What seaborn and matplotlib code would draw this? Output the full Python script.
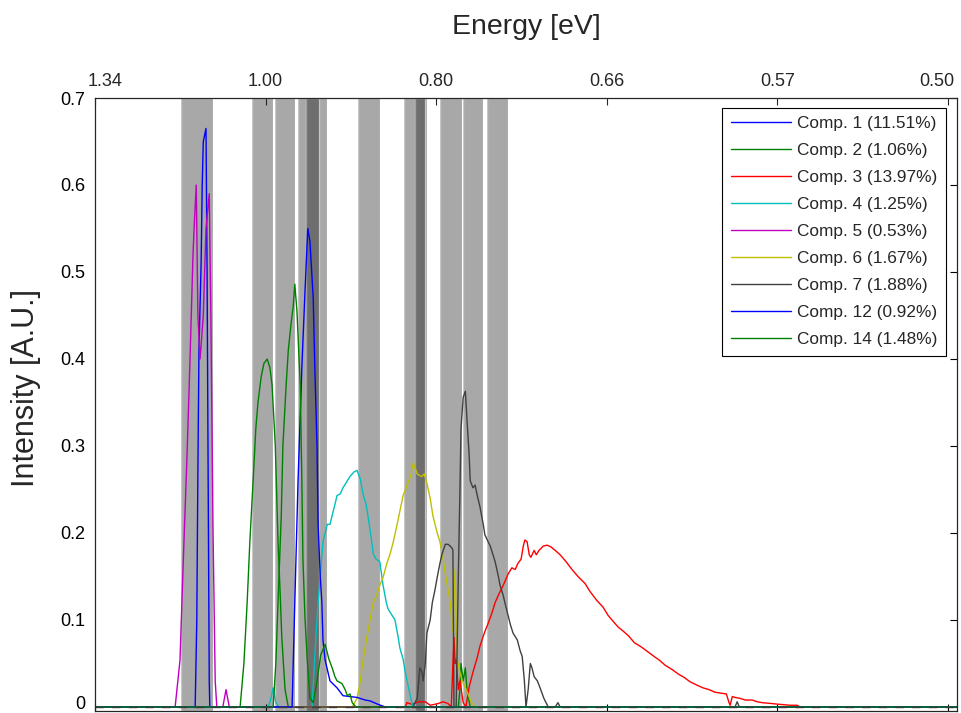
import numpy as np
import pandas as pd
import matplotlib
matplotlib.use("Agg")
import matplotlib.pyplot as plt
import matplotlib.transforms as mtransforms
import seaborn as sns
from matplotlib.lines import Line2D

# ---------------- data (wavelength in nm, intensity in A.U.) ----------------
labels = ["Comp. 1 (11.51%)", "Comp. 2 (1.06%)", "Comp. 3 (13.97%)", "Comp. 4 (1.25%)",
          "Comp. 5 (0.53%)", "Comp. 6 (1.67%)", "Comp. 7 (1.88%)", "Comp. 12 (0.92%)",
          "Comp. 14 (1.48%)"]
colors = ["#0000FF", "#008000", "#FF0000", "#00BFBF", "#BF00BF", "#BFBF00", "#404040",
          "#0000FF", "#008000"]

comp1_nm = [1110, 1113, 1115, 1117, 1121, 1123, 1125, 1130, 1132, 1134, 1136, 1137]
comp1_int = [0, 0.10, 0.27, 0.41, 0.51, 0.60, 0.65, 0.665, 0.50, 0.26, 0.03, 0]

comp2_nm = [1193, 1200, 1206, 1211, 1217, 1222, 1226, 1232, 1237, 1243, 1248, 1252, 1258,
            1263, 1267, 1270, 1276, 1282,
            1596, 1599, 1601, 1605, 1609, 1612, 1618]
comp2_int = [0, 0.05, 0.12, 0.19, 0.26, 0.32, 0.35, 0.38, 0.395, 0.40, 0.39, 0.37, 0.30,
             0.19, 0.13, 0.08, 0.02, 0,
             0, 0.02, 0.05, 0.03, 0.045, 0.02, 0]

comp3_nm = [1498, 1501, 1511, 1522, 1535, 1544, 1559, 1568, 1577, 1583, 1586, 1588, 1590,
            1592, 1596, 1599, 1605, 1610, 1616, 1623, 1631, 1636, 1644, 1651, 1658, 1664,
            1671, 1679, 1688, 1695, 1701, 1706, 1712, 1716, 1719, 1723, 1727, 1730, 1736,
            1740, 1745, 1753, 1760, 1767, 1775, 1784, 1795, 1806, 1817, 1830, 1839, 1851,
            1863, 1873, 1884, 1891, 1899, 1910, 1921, 1934, 1947, 1960, 1967, 1978, 1991,
            2002, 2013, 2024, 2037, 2048, 2059, 2070, 2080, 2091, 2096, 2098, 2102, 2107,
            2116, 2126, 2139, 2148, 2157, 2174, 2190, 2209, 2222, 2227]
comp3_int = [0, 0.005, 0.003, 0.006, 0.006, 0.002, 0.004, 0.006, 0.004, 0.0, 0.05, 0.08,
             0.05, 0.055, 0.02, 0.03, 0.005, 0.0, 0.023, 0.04, 0.057, 0.07, 0.085, 0.096,
             0.108, 0.12, 0.13, 0.14, 0.153, 0.16, 0.158, 0.165, 0.17, 0.185, 0.192, 0.19,
             0.175, 0.172, 0.18, 0.175, 0.18, 0.185, 0.186, 0.184, 0.18, 0.175, 0.167,
             0.158, 0.15, 0.142, 0.133, 0.123, 0.115, 0.105, 0.097, 0.092, 0.088, 0.082,
             0.074, 0.069, 0.063, 0.057, 0.054, 0.048, 0.043, 0.038, 0.034, 0.029, 0.025,
             0.022, 0.02, 0.017, 0.016, 0.015, 0.005, 0.002, 0.012, 0.011, 0.01, 0.008,
             0.008, 0.006, 0.005, 0.004, 0.003, 0.002, 0.002, 0]

comp4_nm = [1245, 1250, 1254, 1259, 1265, 1326, 1331, 1337, 1346, 1354, 1359, 1367, 1372,
            1378, 1383, 1391, 1396, 1403, 1409, 1415, 1420, 1426, 1429, 1435, 1439, 1444,
            1451, 1457, 1463, 1466, 1474, 1479, 1485, 1488, 1494, 1498, 1503, 1507, 1512]
comp4_int = [0, 0.01, 0.022, 0.005, 0, 0, 0.06, 0.12, 0.19, 0.21, 0.21, 0.23, 0.243, 0.245,
             0.252, 0.26, 0.265, 0.27, 0.272, 0.262, 0.245, 0.232, 0.22, 0.195, 0.176,
             0.17, 0.167, 0.14, 0.12, 0.113, 0.105, 0.10, 0.08, 0.068, 0.055, 0.04, 0.025,
             0.014, 0]

comp5_nm = [1073, 1082, 1088, 1095, 1100, 1106, 1108, 1112, 1115, 1119, 1125, 1130, 1136,
            1139, 1143, 1147, 1150, 1161, 1167, 1173]
comp5_int = [0, 0.054, 0.167, 0.29, 0.39, 0.52, 0.55, 0.60, 0.45, 0.40, 0.45, 0.55, 0.59,
             0.45, 0.20, 0.03, 0, 0, 0.02, 0]

comp6_nm = [1400, 1409, 1415, 1420, 1427, 1433, 1439, 1446, 1451, 1457, 1464, 1470, 1476,
            1483, 1488, 1494, 1503, 1509, 1512, 1516, 1520, 1525, 1529, 1533, 1538, 1544,
            1549, 1557, 1562, 1568, 1572, 1577, 1581, 1586, 1588, 1590, 1592, 1594, 1599,
            1603, 1612, 1620, 1627]
comp6_int = [0, 0.01, 0.03, 0.054, 0.08, 0.10, 0.12, 0.13, 0.14, 0.149, 0.165, 0.176,
             0.19, 0.21, 0.225, 0.243, 0.257, 0.268, 0.28, 0.275, 0.268, 0.266, 0.265,
             0.268, 0.257, 0.24, 0.22, 0.20, 0.19, 0.17, 0.153, 0.135, 0.12, 0.086, 0.12,
             0.158, 0.10, 0.054, 0.04, 0.03, 0.018, 0.005, 0]

comp7_nm = [1512, 1520, 1525, 1529, 1531, 1535, 1538, 1544, 1548, 1553, 1557, 1562, 1566,
            1572, 1577, 1581, 1585, 1586, 1588, 1592, 1596, 1599, 1601, 1605, 1609, 1612,
            1616, 1618, 1623, 1627, 1631, 1636, 1642, 1645, 1651, 1655, 1660, 1664, 1670,
            1673, 1679, 1682, 1688, 1692, 1697, 1705, 1710, 1714, 1718, 1721, 1725, 1729,
            1732, 1736, 1742, 1747, 1754, 1762, 1775, 1780, 1784, 2107, 2111, 2115]
comp7_int = [0, 0.01, 0.045, 0.04, 0.03, 0.05, 0.085, 0.10, 0.12, 0.135, 0.149, 0.165,
             0.176, 0.187, 0.187, 0.185, 0.182, 0.18, 0.0, 0.0, 0.15, 0.25, 0.32, 0.356,
             0.363, 0.33, 0.29, 0.26, 0.252, 0.255, 0.243, 0.23, 0.21, 0.198, 0.19, 0.185,
             0.175, 0.167, 0.15, 0.14, 0.128, 0.12, 0.105, 0.095, 0.085, 0.077, 0.065,
             0.058, 0.03, 0.0, 0.02, 0.05, 0.045, 0.035, 0.03, 0.022, 0.01, 0, 0, 0.005,
             0, 0, 0.006, 0]

comp12_nm = [1289, 1294, 1300, 1307, 1313, 1318, 1322, 1328, 1331, 1335, 1337, 1341, 1344,
             1346, 1350, 1359, 1372, 1383, 1396, 1409, 1424, 1433, 1448, 1461]
comp12_int = [0, 0.12, 0.26, 0.39, 0.48, 0.55, 0.535, 0.47, 0.39, 0.30, 0.21, 0.15, 0.12,
              0.077, 0.054, 0.03, 0.022, 0.013, 0.012, 0.011, 0.008, 0.007, 0.003, 0]

comp14_nm = [1254, 1259, 1263, 1269, 1272, 1278, 1282, 1287, 1291, 1294, 1298, 1304, 1307,
             1309, 1313, 1317, 1322, 1328, 1335, 1342, 1350, 1357, 1363, 1368, 1372, 1381,
             1387, 1391, 1396, 1400, 1407]
comp14_int = [0, 0.05, 0.12, 0.22, 0.30, 0.37, 0.41, 0.44, 0.46, 0.486, 0.455, 0.37, 0.26,
              0.17, 0.10, 0.054, 0.01, 0.005, 0.03, 0.06, 0.072, 0.055, 0.045, 0.035, 0.03,
              0.027, 0.02, 0.013, 0.015, 0.005, 0]

series_nm = [comp1_nm, comp2_nm, comp3_nm, comp4_nm, comp5_nm, comp6_nm, comp7_nm,
             comp12_nm, comp14_nm]
series_int = [comp1_int, comp2_int, comp3_int, comp4_int, comp5_int, comp6_int, comp7_int,
              comp12_int, comp14_int]

# shaded spectral bands (nm)
band_start = [1084, 1215, 1257, 1300, 1315, 1411, 1496, 1516, 1562, 1605, 1649]
band_end = [1143, 1254, 1294, 1339, 1354, 1451, 1535, 1539, 1603, 1642, 1688]

# axis ticks: evenly spaced wavelengths, labelled with photon energy
tick_nm = [925, 1240, 1555, 1870, 2185, 2500]
energy_labels = ["1.34", "1.00", "0.80", "0.66", "0.57", "0.50"]
y_ticks = [0, 0.1, 0.2, 0.3, 0.4, 0.5, 0.6, 0.7]
y_labels = ["0", "0.1", "0.2", "0.3", "0.4", "0.5", "0.6", "0.7"]

x_min, x_max = 925, 2517

# ---------------- figure ----------------
sns.set_style("white")
plt.rcParams["font.family"] = ["Liberation Sans", "DejaVu Sans"]

fig = plt.figure(figsize=(9.62, 7.13), dpi=100)
ax = fig.add_axes([95 / 962, 2 / 713, 862 / 962, 613 / 713])

for s, e in zip(band_start, band_end):
    ax.axvspan(s, e, facecolor="black", alpha=0.34, lw=0, zorder=0)
    ax.axvspan(s, e, facecolor="none", edgecolor="white", alpha=0.35, lw=1.0, zorder=0.5)

rows = []
for lab, xs, ys in zip(labels, series_nm, series_int):
    xs_full = [x_min] + list(xs) + [x_max]
    ys_full = [0.0] + list(ys) + [0.0]
    for i, (x, y) in enumerate(zip(xs_full, ys_full)):
        rows.append({"component": lab, "wavelength": x, "intensity": y, "order": i})
df = pd.DataFrame(rows)

for lab, col in zip(labels, colors):
    sub = df[df["component"] == lab]
    sns.lineplot(data=sub, x="wavelength", y="intensity", color=col, lw=1.0,
                 estimator=None, sort=False, legend=False, ax=ax, zorder=2)

ax.axhline(0, color="#3a3a3a", lw=1.0, dashes=(6, 6), zorder=3)

ax.set_xlim(x_min, x_max)
ax.set_ylim(-0.0046, 0.7)
ax.set_xticks(tick_nm)
ax.set_xticklabels([])
ax.set_yticks(y_ticks)
ax.set_yticklabels(y_labels)
ax.set_xlabel("")
ax.set_ylabel("Intensity [A.U.]", fontsize=22)
ax.yaxis.set_label_coords(-0.063, 0.527)
ax.tick_params(axis="both", direction="in", length=5, width=0.8, labelsize=13,
               top=False, right=True, pad=7, colors="black")
for sp in ax.spines.values():
    sp.set_visible(True)
    sp.set_color("black")
    sp.set_linewidth(0.8)

# nudge the "0" label up slightly so it stays inside the image
zero_lab = ax.get_yticklabels()[0]
zero_lab.set_transform(zero_lab.get_transform() +
                       mtransforms.ScaledTranslation(0, 3 / 72, fig.dpi_scale_trans))

top = ax.twiny()
top.set_xlim(x_min, x_max)
top.set_xticks(tick_nm)
top.set_xticklabels(energy_labels)
top.tick_params(direction="in", length=5, width=0.8, labelsize=13, pad=6)
top.set_xlabel("Energy [eV]", fontsize=20.5, labelpad=28)
top.grid(False)
# edge labels are pulled inward, as in the original
top_labels = top.get_xticklabels()
top_labels[0].set_transform(top_labels[0].get_transform() +
                            mtransforms.ScaledTranslation(10 / 100, 0, fig.dpi_scale_trans))
top_labels[-1].set_transform(top_labels[-1].get_transform() +
                             mtransforms.ScaledTranslation(-11 / 100, 0, fig.dpi_scale_trans))

handles = [Line2D([0], [0], color=c, lw=1.0) for c in colors]
leg = ax.legend(handles, labels, loc="upper right", bbox_to_anchor=(0.987, 0.984),
                fontsize=12.4, frameon=True, fancybox=False, framealpha=1,
                edgecolor="black", borderaxespad=0, handlelength=3.5,
                handletextpad=0.35, labelspacing=0.69, borderpad=0.5)
leg.get_frame().set_linewidth(0.8)
leg.set_zorder(10)

fig.savefig("out.png", dpi=100)
